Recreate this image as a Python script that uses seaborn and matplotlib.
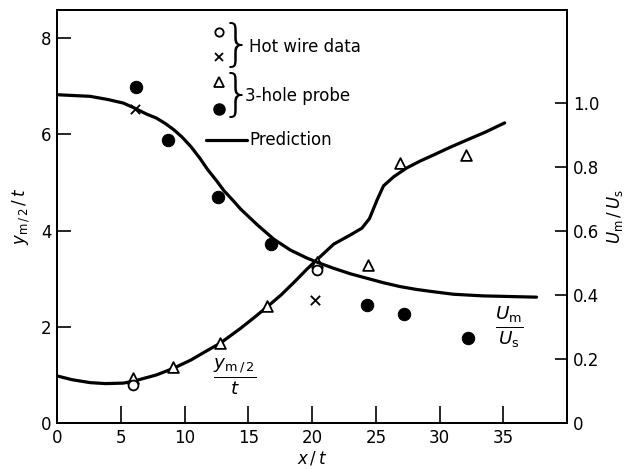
import numpy as np
import pandas as pd
import matplotlib
matplotlib.use("Agg")
import matplotlib.pyplot as plt
import seaborn as sns

# ---- data ----
# predicted velocity ratio U_m/U_s along x/t (right axis)
pred_u_x = [0, 2.6, 4.0, 5.2, 6.1, 7.0, 7.8, 8.5, 9.15, 9.8, 10.5, 11.2, 11.8, 12.5,
            13.1, 13.8, 14.4, 15.7, 17.0, 18.3, 19.6, 20.6, 21.7, 23.0, 24.3, 25.6,
            26.9, 28.2, 29.5, 31.1, 33.4, 35.5, 37.6]
pred_u = [1.025, 1.02, 1.01, 0.999, 0.983, 0.965, 0.952, 0.935, 0.916, 0.893, 0.863,
          0.827, 0.792, 0.757, 0.725, 0.695, 0.668, 0.619, 0.574, 0.54, 0.515, 0.499,
          0.483, 0.466, 0.452, 0.438, 0.426, 0.417, 0.41, 0.402, 0.397, 0.395, 0.393]

# predicted half-width y_m/2 / t along x/t (left axis)
pred_y_x = [0, 1.2, 2.6, 3.8, 5.2, 6.0, 7.8, 9.15, 10.5, 11.6, 12.8, 14.4, 15.4, 16.5,
            17.6, 18.6, 19.6, 20.4, 21.7, 23.0, 23.9, 24.5, 25.1, 25.6, 26.4, 27.4,
            28.5, 29.5, 30.8, 32.1, 33.6, 35.1]
pred_y = [0.98, 0.9, 0.84, 0.82, 0.83, 0.87, 1.0, 1.14, 1.31, 1.48, 1.66, 1.97, 2.18,
          2.42, 2.67, 2.93, 3.2, 3.4, 3.72, 3.91, 4.05, 4.25, 4.64, 4.93, 5.12, 5.30,
          5.45, 5.57, 5.73, 5.88, 6.05, 6.24]

# hot wire measurements
hw_y_x = [6.0, 20.4]          # half-width (circles, left axis)
hw_y = [0.79, 3.18]
hw_u_x = [6.1, 20.2]          # velocity ratio (crosses, right axis)
hw_u = [0.98, 0.385]

# 3-hole probe measurements
probe_y_x = [6.0, 9.1, 12.8, 16.5, 20.4, 24.4, 26.9, 32.1]   # triangles, left axis
probe_y = [0.94, 1.16, 1.67, 2.43, 3.35, 3.28, 5.41, 5.57]
probe_u_x = [6.2, 8.7, 12.6, 16.8, 24.3, 27.2, 32.2]         # dots, right axis
probe_u = [1.05, 0.885, 0.705, 0.56, 0.37, 0.34, 0.265]

x_ticks = [0, 5, 10, 15, 20, 25, 30, 35]
left_ticks = [0, 2, 4, 6, 8]
right_ticks = [0, 0.2, 0.4, 0.6, 0.8, 1.0]
right_tick_labels = ["0", "0.2", "0.4", "0.6", "0.8", "1.0"]

# ---- style ----
sns.set_theme(style="ticks")
plt.rcParams["font.family"] = ["DejaVu Sans"]
plt.rcParams["mathtext.fontset"] = "dejavusans"
plt.rcParams["axes.linewidth"] = 1.4
for key in ("text.color", "axes.labelcolor", "xtick.color", "ytick.color",
            "axes.edgecolor"):
    plt.rcParams[key] = "black"

fig = plt.figure(figsize=(6.33, 4.69), dpi=100)
ax = fig.add_axes([0.090, 0.098, 0.806, 0.881])
ax2 = ax.twinx()

black = "black"
lw = 2.3

sns.lineplot(x=pred_y_x, y=pred_y, ax=ax, color=black, lw=lw, sort=False)
sns.lineplot(x=pred_u_x, y=pred_u, ax=ax2, color=black, lw=lw, sort=False)

sns.scatterplot(x=probe_y_x, y=probe_y, ax=ax, marker="^", s=60,
                facecolor="white", edgecolor=black, linewidth=1.3, zorder=5)
sns.scatterplot(x=hw_y_x, y=hw_y, ax=ax, marker="o", s=50,
                facecolor="white", edgecolor=black, linewidth=1.3, zorder=5)
sns.scatterplot(x=probe_u_x, y=probe_u, ax=ax2, marker="o", s=80,
                color=black, edgecolor=black, zorder=5)
sns.scatterplot(x=hw_u_x, y=hw_u, ax=ax2, marker="x", s=45,
                color=black, linewidth=1.3, zorder=5)

# ---- axes ----
ax.set_xlim(0, 40)
ax.set_ylim(0, 8.59)
ax2.set_ylim(0, 1.29)
ax.set_xticks(x_ticks)
ax.set_xticklabels([str(v) for v in x_ticks])
ax.set_yticks(left_ticks)
ax.set_yticklabels([str(v) for v in left_ticks])
ax2.set_yticks(right_ticks)
ax2.set_yticklabels(right_tick_labels)

ax.tick_params(axis="both", direction="in", length=10, width=1.2,
               labelsize=12, colors=black, pad=4)
ax.tick_params(axis="x", length=12)
ax2.tick_params(axis="y", direction="in", length=9, width=1.2,
                labelsize=12, colors=black, pad=4)

for a in (ax, ax2):
    for sp in a.spines.values():
        sp.set_visible(True)
        sp.set_color(black)
        sp.set_linewidth(1.4)

ax.set_xlabel(r"$x\,/\,t$", fontsize=12, labelpad=2)
ax.set_ylabel(r"$y_{\mathrm{m\,/\,2}}\,/\,t$", fontsize=12, labelpad=6)
ax2.set_ylabel(r"$U_{\mathrm{m}}\,/\,U_{\mathrm{s}}$", fontsize=12, labelpad=4)

# curve labels
ax.text(13.9, 0.96, r"$\frac{y_{\mathrm{m\,/\,2}}}{t}$", fontsize=19,
        ha="center", va="center")
ax.text(35.5, 2.0, r"$\frac{U_{\mathrm{m}}}{U_{\mathrm{s}}}$", fontsize=19,
        ha="center", va="center")

# ---- key ----
tr = ax.transAxes
ax.plot([0.318], [0.947], marker="o", ms=6, mfc="white", mec=black, mew=1.3,
        transform=tr, clip_on=False)
ax.plot([0.318], [0.887], marker="x", ms=6, color=black, mew=1.3,
        transform=tr, clip_on=False)
ax.plot([0.318], [0.826], marker="^", ms=7, mfc="white", mec=black, mew=1.3,
        transform=tr, clip_on=False)
ax.plot([0.318], [0.760], marker="o", ms=8, color=black,
        transform=tr, clip_on=False)
ax.plot([0.293, 0.372], [0.685, 0.685], color=black, lw=lw, transform=tr)

ax.text(0.351, 0.912, "}", fontsize=36, ha="center", va="center",
        transform=tr, fontweight="light")
ax.text(0.351, 0.792, "}", fontsize=36, ha="center", va="center",
        transform=tr, fontweight="light")
ax.text(0.376, 0.911, "Hot wire data", fontsize=12, ha="left", va="center",
        transform=tr)
ax.text(0.368, 0.792, "3-hole probe", fontsize=12, ha="left", va="center",
        transform=tr)
ax.text(0.378, 0.685, "Prediction", fontsize=12, ha="left", va="center",
        transform=tr)

fig.savefig("out.png", dpi=100, facecolor="white")
